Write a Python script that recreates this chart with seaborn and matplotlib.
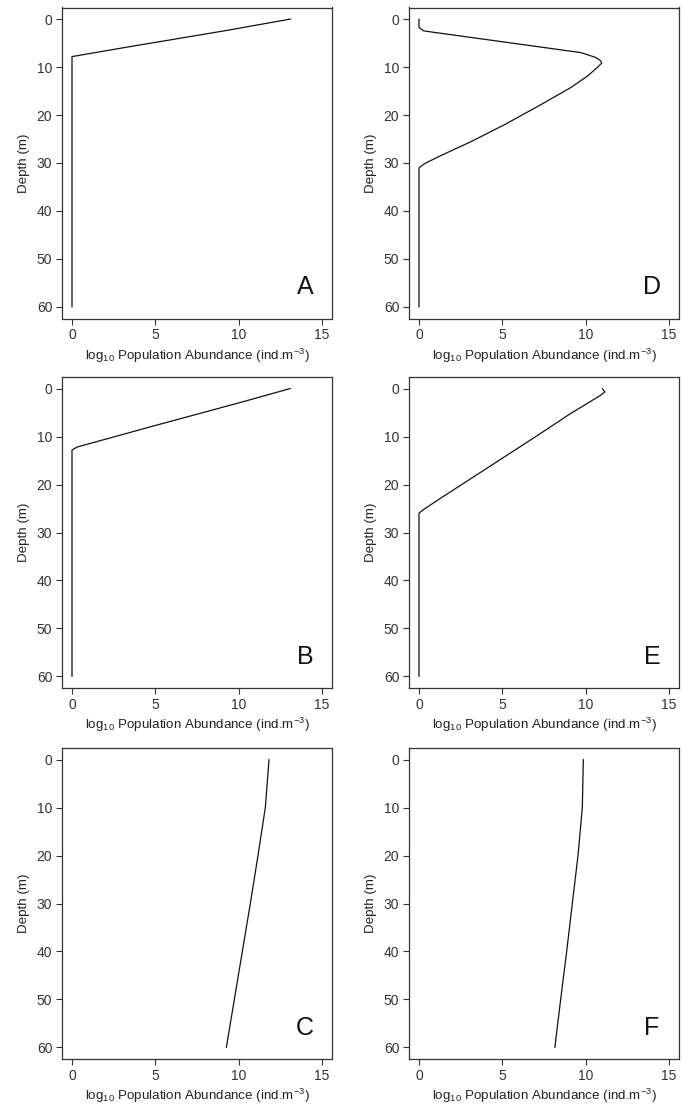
import matplotlib
matplotlib.use("Agg")
import matplotlib.pyplot as plt
import seaborn as sns
import pandas as pd

# ---- data (depth in m, log10 abundance) ----
depth_A = [0, 2.38, 5.87, 7.83, 60]
abund_A = [13.12, 9.28, 3.28, 0.0, 0.0]

depth_B = [0, 3.0, 7.7, 12.2, 12.8, 60]
abund_B = [13.1, 10.0, 5.0, 0.3, 0.0, 0.0]

depth_C = [0, 10, 20, 30, 40, 50, 60]
abund_C = [11.82, 11.6, 11.16, 10.7, 10.22, 9.74, 9.26]

depth_D = [0, 1.75, 2.45, 2.66, 7.0, 8.0, 8.7, 9.2, 10.1, 11.9, 14.3, 18.2, 22.0,
           25.5, 28.7, 30.1, 30.8, 31.1, 60]
abund_D = [0.0, 0.0, 0.26, 0.66, 9.72, 10.6, 10.9, 10.96, 10.7, 10.1, 9.1, 7.13, 5.14,
           3.15, 1.16, 0.36, 0.06, 0.0, 0.0]

depth_E = [0, 0.7, 1.4, 3.1, 5.2, 9.8, 14.3, 18.8, 23.3, 25.4, 26.0, 60]
abund_E = [11.0, 11.15, 10.9, 10.1, 9.1, 7.1, 5.1, 3.1, 1.1, 0.2, 0.0, 0.0]

depth_F = [0, 10, 20, 30, 40, 50, 60]
abund_F = [9.86, 9.8, 9.54, 9.2, 8.86, 8.5, 8.15]

panel_letters = ["A", "B", "C", "D", "E", "F"]
x_ticks = [0, 5, 10, 15]
y_ticks = [0, 10, 20, 30, 40, 50, 60]

panels = {
    "A": (depth_A, abund_A),
    "B": (depth_B, abund_B),
    "C": (depth_C, abund_C),
    "D": (depth_D, abund_D),
    "E": (depth_E, abund_E),
    "F": (depth_F, abund_F),
}

sns.set_style("ticks")
plt.rcParams["font.family"] = ["Liberation Sans", "DejaVu Sans"]
plt.rcParams["axes.edgecolor"] = "#333333"
plt.rcParams["xtick.color"] = "#333333"
plt.rcParams["ytick.color"] = "#333333"
plt.rcParams["text.color"] = "#222222"
plt.rcParams["axes.labelcolor"] = "#222222"
plt.rcParams["mathtext.fontset"] = "custom"
plt.rcParams["mathtext.rm"] = "Liberation Sans"
plt.rcParams["mathtext.it"] = "Liberation Sans"

fig = plt.figure(figsize=(6.92, 11.06), dpi=100)

W, H = 692, 1106
col_left = [62, 409]
col_width = 270
row_top = [7.5, 377, 748]
row_height = 311

layout = {"A": (0, 0), "B": (1, 0), "C": (2, 0), "D": (0, 1), "E": (1, 1), "F": (2, 1)}

for letter in panel_letters:
    r, c = layout[letter]
    left = col_left[c] / W
    bottom = 1 - (row_top[r] + row_height) / H
    ax = fig.add_axes([left, bottom, col_width / W, row_height / H])
    d, a = panels[letter]
    df = pd.DataFrame({"depth": d, "abund": a})
    sns.lineplot(data=df, x="abund", y="depth", sort=False, estimator=None,
                 color="#111111", lw=0.9, ax=ax)
    ax.set_xlim(-0.6, 15.6)
    ax.set_ylim(62.4, -2.4)
    ax.set_xticks(x_ticks)
    ax.set_yticks(y_ticks)
    ax.tick_params(labelsize=10, length=4, width=0.8, pad=3)
    for s in ax.spines.values():
        s.set_linewidth(0.9)
        s.set_visible(True)
    ax.set_xlabel(r"log$_{10}$ Population Abundance (ind.m$^{-3}$)", fontsize=9.6, labelpad=3)
    ax.set_ylabel("Depth (m)", fontsize=9.6, labelpad=5)
    ax.text(0.9, 0.1, letter, transform=ax.transAxes, fontsize=18,
            ha="center", va="center", color="#111111")

fig.savefig("out.png", dpi=100)
